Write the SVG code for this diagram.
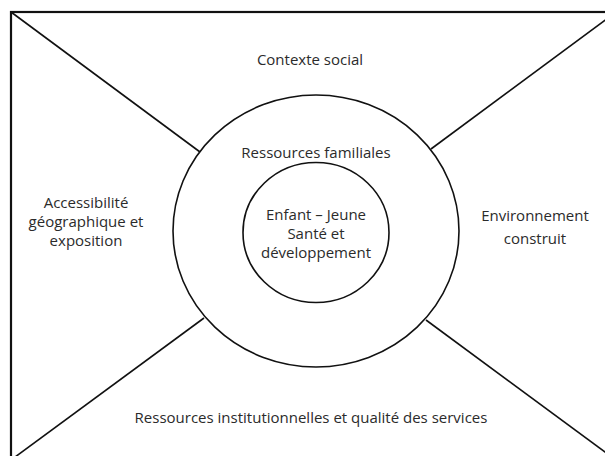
<svg xmlns="http://www.w3.org/2000/svg" width="605" height="456" viewBox="0 0 605 456">
<style>
.ln{stroke:#111;stroke-width:1.6;fill:none}
.t{font-family:"Open Sans","Liberation Sans",Arial,sans-serif;font-size:15px;fill:#2b2b2b;text-anchor:middle}
</style>
<rect x="0" y="0" width="605" height="456" fill="#fff"/>
<g id="frame"><rect x="11" y="12" width="605" height="448" fill="none" stroke="#111" stroke-width="2.2"/></g>
<g id="connectors">
<line class="ln" x1="11" y1="12" x2="200" y2="152"/>
<line class="ln" x1="616" y1="12" x2="431" y2="149"/>
<line class="ln" x1="11" y1="460" x2="204" y2="318"/>
<line class="ln" x1="616" y1="460" x2="426" y2="320"/>
</g>
<g id="outer-ring"><ellipse class="ln" cx="316" cy="231" rx="143" ry="136"/></g>
<g id="inner-circle"><ellipse class="ln" cx="316" cy="232.5" rx="73" ry="70"/></g>
<g id="contexte-social"><text class="t" x="310" y="65">Contexte social</text></g>
<g id="ressources-familiales"><text class="t" x="316" y="158">Ressources familiales</text></g>
<g id="enfant"><text class="t" x="316" y="220">Enfant – Jeune</text><text class="t" x="316" y="239">Santé et</text><text class="t" x="316" y="258">développement</text></g>
<g id="accessibilite"><text class="t" x="86" y="208">Accessibilité</text><text class="t" x="86" y="227">géographique et</text><text class="t" x="86" y="246">exposition</text></g>
<g id="environnement"><text class="t" x="535" y="221">Environnement</text><text class="t" x="535" y="244">construit</text></g>
<g id="institutionnelles"><text class="t" x="311" y="423">Ressources institutionnelles et qualité des services</text></g>
</svg>
